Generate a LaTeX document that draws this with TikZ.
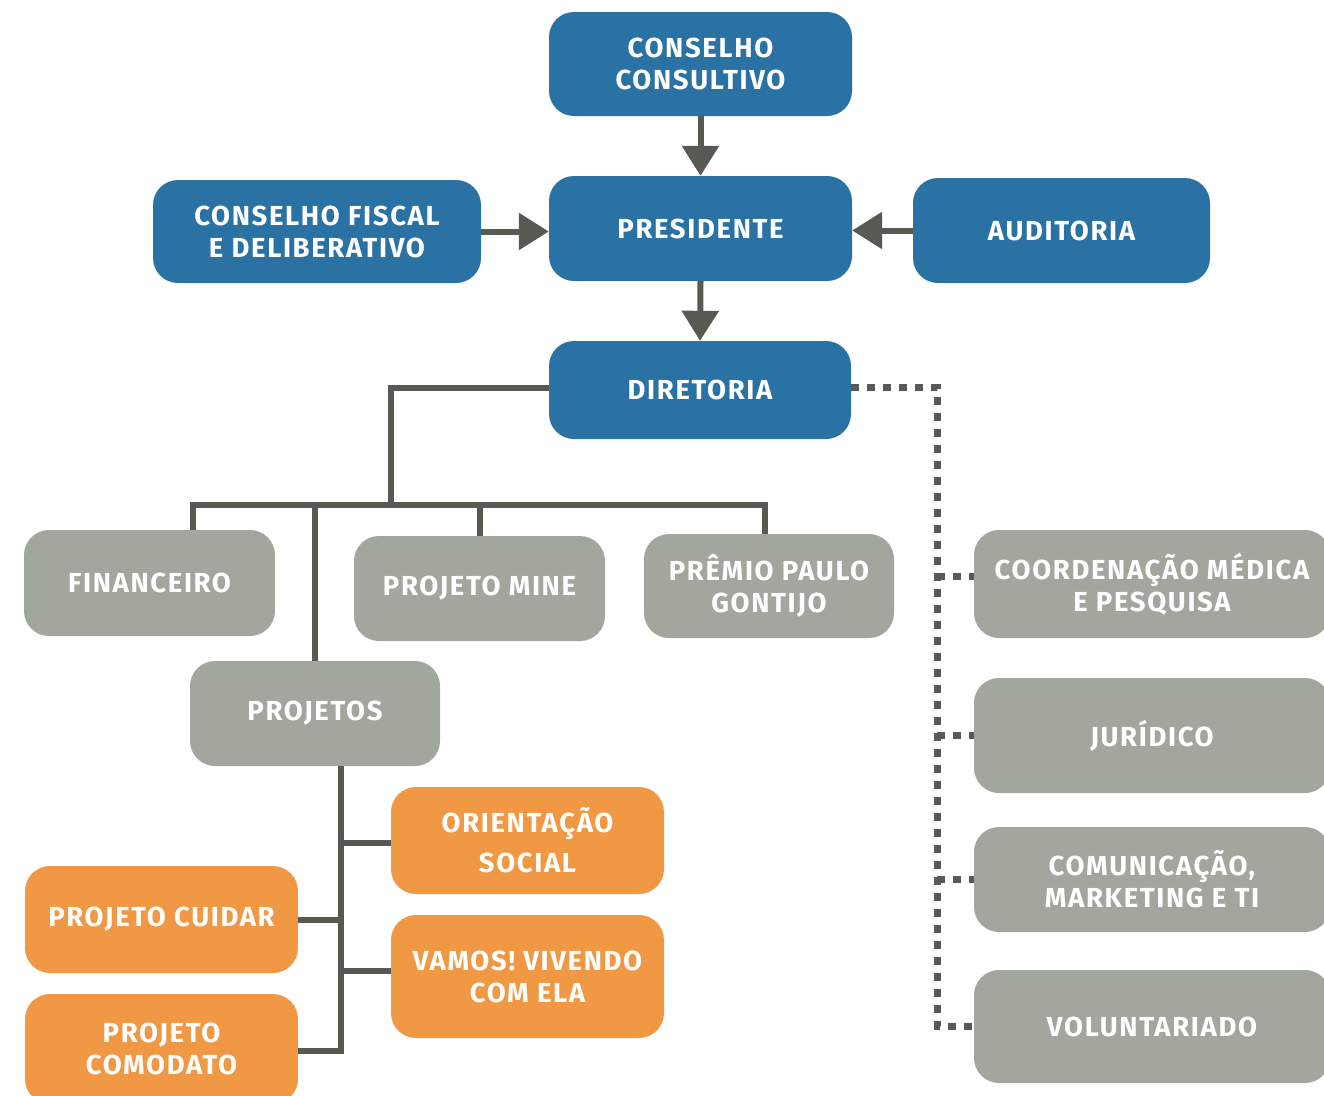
\documentclass[tikz,border=0pt]{standalone}
\usepackage{fontspec}
\newfontfamily\bfont[LetterSpace=6]{Fira Sans}
\usetikzlibrary{arrows.meta}
\definecolor{cblue}{HTML}{2A71A4}
\definecolor{cgray}{HTML}{A1A79D}
\definecolor{corange}{HTML}{F09844}
\definecolor{cline}{HTML}{575A52}
\tikzset{
  box/.style={rounded corners=25pt, text=white, align=center, inner sep=0pt,
    font=\bfont\bfseries\fontsize{27.5}{32}\selectfont},
  sz/.style 2 args={minimum width=#1, minimum height=#2},
  bluebox/.style={box, fill=cblue},
  graybox/.style={box, fill=cgray},
  orangebox/.style={box, fill=corange},
  conn/.style={draw=cline, line width=6pt, line join=miter},
  arr/.style={conn, -{Triangle[length=30pt,width=36pt]}},
  dots/.style={draw=cline, line width=7pt, dash pattern=on 8pt off 8pt}
}
\begin{document}
\begin{tikzpicture}[x=1pt,y=-1pt]
\useasboundingbox (0,0) rectangle (1324,1095);
\clip (0,0) rectangle (1324,1095);
% top
\node[bluebox, sz={303pt}{104pt}] (cc) at (700.5,64) {CONSELHO\\CONSULTIVO};
\node[bluebox, sz={303pt}{105pt}] (pres) at (700.5,228.5) {PRESIDENTE};
\node[bluebox, sz={328pt}{103pt}] (fisc) at (317,231.5) {CONSELHO FISCAL\\E DELIBERATIVO};
\node[bluebox, sz={297pt}{105pt}] (aud) at (1061.5,230.5) {AUDITORIA};
\node[bluebox, sz={302pt}{98pt}] (dir) at (700,390) {DIRETORIA};
% second level
\node[graybox, sz={251pt}{106pt}] (fin) at (149.5,583) {FINANCEIRO};
\node[graybox, sz={251pt}{105pt}] (mine) at (479.5,588.5) {PROJETO MINE};
\node[graybox, sz={250pt}{104pt}] (prem) at (769,586) {PRÊMIO PAULO\\GONTIJO};
\node[graybox, sz={250pt}{105pt}] (proj) at (315,713.5) {PROJETOS};
% projects
\node[orangebox, sz={273pt}{107pt}] (ori) at (527.5,840.5) {ORIENTAÇÃO\\[8pt]SOCIAL};
\node[orangebox, sz={273pt}{123pt}] (vam) at (527.5,976.5) {VAMOS! VIVENDO\\COM ELA};
\node[orangebox, sz={273pt}{107pt}] (cui) at (161.5,919.5) {PROJETO CUIDAR};
\node[orangebox, sz={273pt}{110pt}] (com) at (161.5,1049) {PROJETO\\COMODATO};
% right column
\node[graybox, sz={356pt}{108pt}] (cmp) at (1152,584) {COORDENAÇÃO MÉDICA\\E PESQUISA};
\node[graybox, sz={356pt}{115pt}] (jur) at (1152,735.5) {JURÍDICO};
\node[graybox, sz={356pt}{105pt}] (cmti) at (1152,879.5) {COMUNICAÇÃO,\\MARKETING E TI};
\node[graybox, sz={356pt}{113pt}] (vol) at (1152,1026.5) {VOLUNTARIADO};
% arrows
\draw[arr] (cc.south) -- (pres.north);
\draw[arr] (pres.south) -- (dir.north);
\draw[arr] (fisc.east) -- (fisc.east -| pres.west);
\draw[arr] (aud.west) -- (aud.west -| pres.east);
% tree
\coordinate (bar) at (391,505);
\coordinate (spine) at (341,0);
\coordinate (dx) at (937,0);
\draw[conn] ([yshift=2pt]dir.west) -| (bar);
\draw[conn] ([xshift=43pt]fin.north) |- (bar) -| ([xshift=-4pt]prem.north);
\draw[conn] (mine.north) -- (mine.north |- bar);
\draw[conn] (proj.north) -- (proj.north |- bar);
\draw[conn] ([xshift=26pt]proj.south) |- ([yshift=-2pt]com.east);
\draw[conn] ([yshift=-2.5pt]ori.west) -- ([yshift=-2.5pt]ori.west -| spine);
\draw[conn] ([yshift=6pt]vam.west) -- ([yshift=6pt]vam.west -| spine);
\draw[conn] (cui.east) -- (cui.east -| spine);
% dotted
\draw[dots] ([yshift=3pt]dir.east) -| (vol.west -| dx) -- (vol.west);
\draw[dots] ([yshift=8pt]cmp.west -| dx) -- ([yshift=8pt]cmp.west);
\draw[dots] (jur.west -| dx) -- (jur.west);
\draw[dots] (cmti.west -| dx) -- (cmti.west);
\end{tikzpicture}
\end{document}
